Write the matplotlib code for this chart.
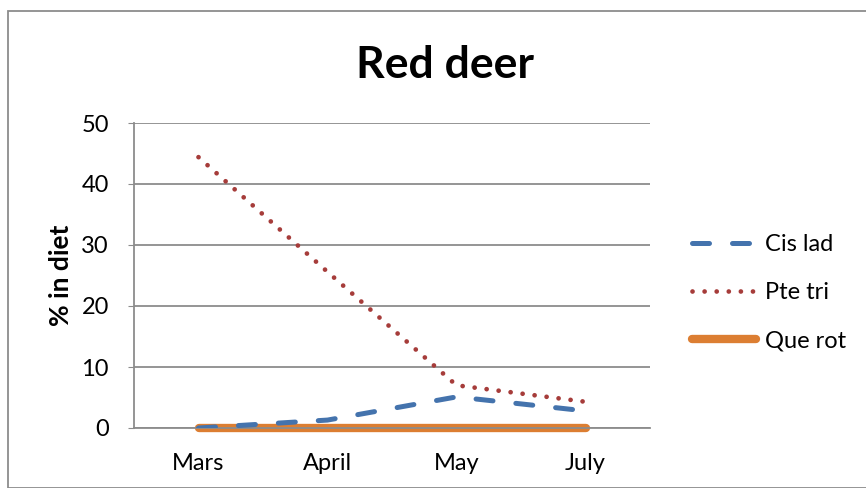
import matplotlib
matplotlib.use("Agg")
import matplotlib.pyplot as plt
from matplotlib.patches import Rectangle

months = ["Mars", "April", "May", "July"]
cis_lad = [0.0, 1.3, 5.1, 2.8]
pte_tri = [44.4, 25.6, 7.0, 4.3]
que_rot = [0.0, 0.0, 0.0, 0.0]
y_ticks = [0, 10, 20, 30, 40, 50]

plt.rcParams["font.family"] = ["Lato", "DejaVu Sans"]

W, H = 866, 488
fig = plt.figure(figsize=(W / 100, H / 100), dpi=100)

# chart frame
fig.patches.append(Rectangle((8 / W, 0), 1.2, 1 - 11 / H, transform=fig.transFigure,
                             fill=False, edgecolor="#8c8c8c", linewidth=1.3))

ax = fig.add_axes([134 / W, 1 - 428 / H, (650 - 134) / W, (428 - 123) / H])
x = range(len(months))

ax.plot(x, que_rot, color="#dc7e32", linewidth=6, solid_capstyle="round",
        label="Que rot", zorder=2, clip_on=False)
ax.plot(x, cis_lad, color="#4473ad", linewidth=3.6, dashes=(3.4, 4.6),
        dash_capstyle="round", label="Cis lad", zorder=3)
ax.plot(x, pte_tri, color="#a63c3a", linewidth=3.4, linestyle=(0, (0.01, 2.55)),
        dash_capstyle="round", label="Pte tri", zorder=4)

ax.set_xlim(-0.5, len(months) - 0.5)
ax.set_ylim(0, 50)
ax.set_yticks(y_ticks)
ax.set_xticks(list(x))
ax.set_xticklabels(months)
ax.yaxis.grid(True, color="#8c8c8c", linewidth=1.3)
ax.set_axisbelow(True)
for side in ["top", "right"]:
    ax.spines[side].set_visible(False)
for side in ["left", "bottom"]:
    ax.spines[side].set_color("#8c8c8c")
    ax.spines[side].set_linewidth(1.3)
ax.tick_params(axis="y", length=4, color="#8c8c8c", labelsize=17, pad=14)
ax.tick_params(axis="x", length=0, labelsize=17, pad=18)

ax.set_ylabel("% in diet", fontsize=19, fontweight="bold", labelpad=6)
fig.text(445 / W, 1 - 65 / H, "Red deer", ha="center", va="center",
         fontsize=32, fontweight="bold")

handles, labels = ax.get_legend_handles_labels()
order = [1, 2, 0]
ax.legend([handles[i] for i in order], [labels[i] for i in order],
          loc="center left", bbox_to_anchor=(1.04, 0.443), frameon=False,
          fontsize=17, handlelength=2.7, handletextpad=0.4, labelspacing=1.15)

fig.savefig("out.png", dpi=100)
